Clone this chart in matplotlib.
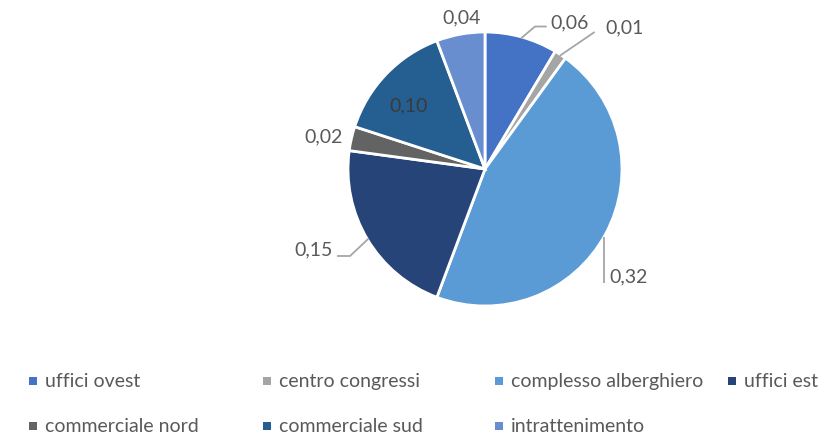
import matplotlib
matplotlib.use("Agg")
import matplotlib.pyplot as plt
from matplotlib.patches import Rectangle
import numpy as np

plt.rcParams['font.family'] = ['Lato', 'DejaVu Sans']

categories = ["uffici ovest", "centro congressi", "complesso alberghiero", "uffici est",
              "commerciale nord", "commerciale sud", "intrattenimento"]
values = [0.06, 0.01, 0.32, 0.15, 0.02, 0.10, 0.04]
colors = ["#4472C4", "#A5A5A5", "#5B9BD5", "#264478", "#636363", "#255E91", "#698ED0"]

TEXT = "#595959"
TEXT_INSIDE = "#3A3A3A"
LINE = "#A6A6A6"
FS = 14

W, H = 833, 439
fig = plt.figure(figsize=(W / 100, H / 100), dpi=100)

# pie placed by pixel centre and radius
cx, cy, r = 485, 170, 137
ax = fig.add_axes([(cx - r) / W, (H - cy - r) / H, 2 * r / W, 2 * r / H])
wedges, _ = ax.pie(values, colors=colors, startangle=90, counterclock=False,
                   radius=1.0, wedgeprops=dict(edgecolor="white", linewidth=2))
ax.set_xlim(-1, 1)
ax.set_ylim(-1, 1)
ax.set_aspect("equal")
ax.axis("off")


def labtxt(v):
    return f"{v:.2f}".replace(".", ",")


def mid_point(i, rad=1.0):
    w = wedges[i]
    a = np.deg2rad((w.theta1 + w.theta2) / 2)
    return rad * np.cos(a), rad * np.sin(a)


# label placement: (text x, text y, ha, leader path after wedge edge, inside?)
label_layout = [
    (0.48, 1.075, "left", [(0.365, 1.04), (0.45, 1.04)], False),
    (0.88, 1.04, "left", [(0.80, 1.00)], False),
    (0.91, -0.78, "left", [(0.865, -0.83)], False),
    (-1.11, -0.58, "right", [(-0.985, -0.635), (-1.08, -0.635)], False),
    (-1.04, 0.24, "right", None, False),
    (-0.56, 0.47, "center", None, True),
    (-0.17, 1.11, "center", None, False),
]

for i, (v, (tx, ty, ha, path, inside)) in enumerate(zip(values, label_layout)):
    if path is not None:
        x0, y0 = mid_point(i, 0.99)
        pts = [(x0, y0)] + path
        if i == 2:
            pts = [(0.865, y0 - 0.03)] + path
        xs, ys = zip(*pts)
        ax.plot(xs, ys, color=LINE, lw=1.3, clip_on=False, solid_capstyle="butt")
    ax.text(tx, ty, labtxt(v), ha=ha, va="center", fontsize=FS,
            color=TEXT_INSIDE if inside else TEXT, clip_on=False)

# legend entries laid out in two rows
legend_x = [33, 267, 499, 732, 33, 267, 499]
legend_y = [382, 382, 382, 382, 427, 427, 427]
msz = 7.5
for name, col, lx, ly in zip(categories, colors, legend_x, legend_y):
    fig.add_artist(Rectangle(((lx - msz / 2) / W, (H - ly - msz / 2) / H), msz / W, msz / H,
                             transform=fig.transFigure, facecolor=col, edgecolor="none"))
    fig.text((lx + 12) / W, (H - ly) / H, name, ha="left", va="center",
             fontsize=FS, color=TEXT)

fig.savefig("out.png", dpi=100, facecolor="white")
